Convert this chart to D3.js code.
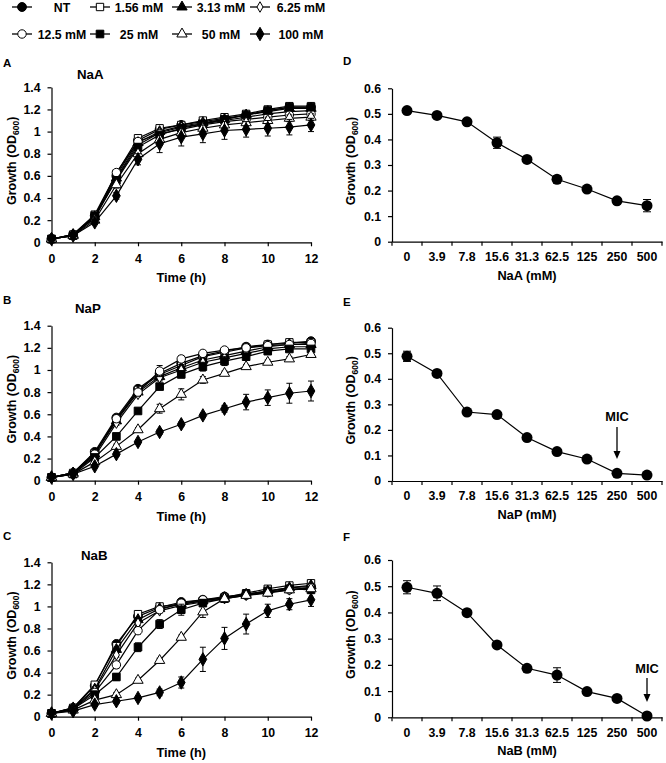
<!DOCTYPE html>
<html lang="en">
<head>
<meta charset="UTF-8" />
<title>Growth of cultures with NaA, NaP and NaB</title>
<script src="https://d3js.org/d3.v7.min.js"></script>
<style>
  body { margin: 0; background: #fff; }
  svg { display: block; font-family: "Liberation Sans", Arial, sans-serif; font-weight: bold; }
  .axis path, .axis line { stroke: #000; stroke-width: 1.2; }
  .axis text { font-size: 12.3px; fill: #000; }
  .series { fill: none; stroke: #000; stroke-width: 1.2; }
  .err { stroke: #000; stroke-width: 1; }
</style>
</head>
<body>
<div id="chart"></div>
<script>
// ---- datos ----
const hours = [0, 1, 2, 3, 4, 5, 6, 7, 8, 9, 10, 11, 12];
const timeTicks = [0, 2, 4, 6, 8, 10, 12];
const odTicks = [0, 0.2, 0.4, 0.6, 0.8, 1, 1.2, 1.4];
const micTicks = [0, 0.1, 0.2, 0.3, 0.4, 0.5, 0.6];
const seriesLabels = ["NT", "1.56 mM", "3.13 mM", "6.25 mM", "12.5 mM", "25 mM", "50 mM", "100 mM"];
const concLabels = ["0", "3.9", "7.8", "15.6", "31.3", "62.5", "125", "250", "500"];

// curvas de crecimiento, una fila por serie (NT ... 100 mM)
const naA = [
  [0.03, 0.07, 0.24, 0.60, 0.92, 1.02, 1.06, 1.09, 1.12, 1.15, 1.19, 1.22, 1.22],
  [0.03, 0.07, 0.25, 0.62, 0.94, 1.03, 1.06, 1.10, 1.13, 1.16, 1.20, 1.23, 1.23],
  [0.03, 0.07, 0.23, 0.58, 0.90, 1.00, 1.05, 1.08, 1.11, 1.15, 1.18, 1.21, 1.21],
  [0.03, 0.07, 0.22, 0.57, 0.88, 0.99, 1.04, 1.07, 1.10, 1.13, 1.16, 1.18, 1.19],
  [0.03, 0.06, 0.22, 0.63, 0.91, 0.98, 1.02, 1.06, 1.09, 1.11, 1.13, 1.15, 1.16],
  [0.03, 0.06, 0.24, 0.56, 0.86, 0.97, 1.03, 1.07, 1.11, 1.15, 1.19, 1.22, 1.22],
  [0.03, 0.06, 0.20, 0.52, 0.80, 0.93, 0.99, 1.03, 1.06, 1.08, 1.10, 1.12, 1.13],
  [0.03, 0.06, 0.18, 0.42, 0.75, 0.89, 0.95, 0.98, 1.01, 1.02, 1.03, 1.04, 1.06]
];
const naAErr = [
  [0.01, 0.01, 0.02, 0.02, 0.03, 0.02, 0.02, 0.02, 0.02, 0.02, 0.02, 0.02, 0.02],
  [0.01, 0.01, 0.02, 0.02, 0.03, 0.02, 0.02, 0.02, 0.02, 0.02, 0.02, 0.02, 0.02],
  [0.01, 0.01, 0.02, 0.02, 0.03, 0.02, 0.02, 0.02, 0.02, 0.02, 0.02, 0.02, 0.02],
  [0.01, 0.01, 0.02, 0.02, 0.03, 0.02, 0.02, 0.02, 0.02, 0.02, 0.02, 0.02, 0.02],
  [0.01, 0.01, 0.02, 0.02, 0.03, 0.02, 0.02, 0.02, 0.02, 0.02, 0.03, 0.03, 0.03],
  [0.01, 0.01, 0.02, 0.02, 0.03, 0.02, 0.02, 0.02, 0.02, 0.02, 0.02, 0.02, 0.02],
  [0.01, 0.01, 0.02, 0.03, 0.04, 0.03, 0.03, 0.03, 0.03, 0.03, 0.03, 0.03, 0.03],
  [0.01, 0.01, 0.02, 0.03, 0.05, 0.08, 0.08, 0.08, 0.08, 0.07, 0.07, 0.07, 0.06]
];
const naP = [
  [0.03, 0.07, 0.26, 0.57, 0.83, 0.97, 1.06, 1.13, 1.17, 1.21, 1.23, 1.24, 1.26],
  [0.03, 0.07, 0.25, 0.55, 0.82, 0.96, 1.04, 1.12, 1.16, 1.20, 1.23, 1.25, 1.25],
  [0.03, 0.07, 0.24, 0.54, 0.80, 0.94, 1.02, 1.09, 1.13, 1.17, 1.21, 1.23, 1.23],
  [0.03, 0.07, 0.22, 0.52, 0.78, 0.93, 1.00, 1.07, 1.11, 1.15, 1.19, 1.21, 1.21],
  [0.03, 0.06, 0.24, 0.56, 0.80, 0.99, 1.10, 1.15, 1.18, 1.20, 1.22, 1.23, 1.24],
  [0.03, 0.06, 0.21, 0.40, 0.63, 0.85, 0.96, 1.03, 1.08, 1.12, 1.17, 1.19, 1.19],
  [0.03, 0.06, 0.17, 0.31, 0.46, 0.65, 0.78, 0.91, 0.97, 1.03, 1.07, 1.10, 1.14],
  [0.03, 0.06, 0.13, 0.24, 0.35, 0.44, 0.51, 0.59, 0.65, 0.71, 0.75, 0.79, 0.81]
];
const naPErr = [
  [0.01, 0.01, 0.02, 0.02, 0.02, 0.03, 0.02, 0.02, 0.02, 0.02, 0.02, 0.02, 0.02],
  [0.01, 0.01, 0.02, 0.02, 0.02, 0.03, 0.02, 0.02, 0.02, 0.02, 0.02, 0.02, 0.02],
  [0.01, 0.01, 0.02, 0.02, 0.02, 0.03, 0.03, 0.02, 0.02, 0.02, 0.02, 0.02, 0.02],
  [0.01, 0.01, 0.02, 0.02, 0.02, 0.03, 0.03, 0.03, 0.03, 0.02, 0.02, 0.02, 0.02],
  [0.01, 0.01, 0.02, 0.02, 0.02, 0.05, 0.03, 0.02, 0.02, 0.02, 0.02, 0.02, 0.02],
  [0.01, 0.01, 0.02, 0.02, 0.02, 0.02, 0.03, 0.04, 0.04, 0.03, 0.03, 0.02, 0.02],
  [0.01, 0.01, 0.02, 0.02, 0.02, 0.04, 0.05, 0.03, 0.02, 0.02, 0.02, 0.02, 0.02],
  [0.01, 0.01, 0.01, 0.02, 0.02, 0.02, 0.02, 0.02, 0.03, 0.07, 0.07, 0.09, 0.09]
];
const naB = [
  [0.03, 0.08, 0.28, 0.66, 0.91, 0.99, 1.04, 1.06, 1.09, 1.11, 1.14, 1.17, 1.18],
  [0.03, 0.08, 0.29, 0.64, 0.93, 1.00, 1.02, 1.05, 1.08, 1.12, 1.16, 1.19, 1.21],
  [0.03, 0.08, 0.25, 0.61, 0.88, 0.98, 1.02, 1.05, 1.08, 1.11, 1.14, 1.17, 1.19],
  [0.03, 0.07, 0.24, 0.56, 0.85, 0.96, 1.01, 1.04, 1.07, 1.10, 1.13, 1.15, 1.17],
  [0.03, 0.07, 0.22, 0.47, 0.78, 0.97, 1.03, 1.06, 1.08, 1.10, 1.13, 1.15, 1.17],
  [0.03, 0.07, 0.20, 0.36, 0.63, 0.84, 0.97, 1.03, 1.07, 1.11, 1.14, 1.16, 1.15],
  [0.03, 0.06, 0.15, 0.20, 0.33, 0.51, 0.72, 0.95, 1.07, 1.10, 1.12, 1.15, 1.16],
  [0.03, 0.05, 0.11, 0.14, 0.17, 0.22, 0.31, 0.52, 0.71, 0.84, 0.96, 1.02, 1.06]
];
const naBErr = [
  [0.01, 0.01, 0.02, 0.02, 0.02, 0.02, 0.02, 0.02, 0.02, 0.02, 0.02, 0.02, 0.02],
  [0.01, 0.01, 0.02, 0.02, 0.02, 0.02, 0.02, 0.02, 0.02, 0.02, 0.02, 0.02, 0.02],
  [0.01, 0.01, 0.02, 0.02, 0.02, 0.02, 0.02, 0.02, 0.02, 0.02, 0.02, 0.02, 0.02],
  [0.01, 0.01, 0.02, 0.02, 0.02, 0.02, 0.02, 0.02, 0.02, 0.02, 0.02, 0.02, 0.02],
  [0.01, 0.01, 0.02, 0.03, 0.03, 0.02, 0.02, 0.02, 0.02, 0.02, 0.02, 0.02, 0.02],
  [0.01, 0.01, 0.02, 0.03, 0.04, 0.04, 0.05, 0.03, 0.02, 0.02, 0.02, 0.02, 0.02],
  [0.01, 0.01, 0.02, 0.02, 0.02, 0.02, 0.02, 0.05, 0.03, 0.02, 0.03, 0.02, 0.02],
  [0.01, 0.01, 0.01, 0.02, 0.02, 0.03, 0.05, 0.11, 0.10, 0.09, 0.06, 0.05, 0.06]
];

// crecimiento a 24 h segun concentracion
const naAMic = [0.513, 0.494, 0.469, 0.387, 0.322, 0.244, 0.206, 0.160, 0.141];
const naAMicErr = [0.010, 0.006, 0.008, 0.022, 0.007, 0.014, 0.008, 0.012, 0.024];
const naPMic = [0.488, 0.421, 0.270, 0.260, 0.170, 0.115, 0.086, 0.030, 0.023];
const naPMicErr = [0.020, 0.006, 0.006, 0.012, 0.005, 0.004, 0.004, 0.003, 0.003];
const naBMic = [0.496, 0.473, 0.399, 0.276, 0.187, 0.161, 0.098, 0.072, 0.005];
const naBMicErr = [0.025, 0.028, 0.006, 0.006, 0.006, 0.028, 0.006, 0.004, 0.003];

// ---- dibujo ----
const W = 666, H = 763;
const svg = d3.select("#chart").append("svg").attr("width", W).attr("height", H);

const markerStyle = [
  { type: d3.symbolCircle, size: 62, fill: "#000" },
  { type: d3.symbolSquare, size: 54, fill: "#fff" },
  { type: d3.symbolTriangle, size: 46, fill: "#000" },
  { type: d3.symbolDiamond, size: 32, fill: "#fff" },
  { type: d3.symbolCircle, size: 56, fill: "#fff" },
  { type: d3.symbolSquare, size: 58, fill: "#000" },
  { type: d3.symbolTriangle, size: 46, fill: "#fff" },
  { type: d3.symbolDiamond, size: 52, fill: "#000" }
];

function cleanAxis(g) {
  g.attr("font-family", null).attr("font-size", null);
}

function yLabel(x, yMid) {
  const t = svg.append("text")
    .attr("transform", `translate(${x},${yMid}) rotate(-90)`)
    .attr("text-anchor", "middle")
    .attr("font-size", 12.5);
  t.append("tspan").text("Growth (OD");
  t.append("tspan").attr("font-size", 8.5).attr("dy", 3).text("600");
  t.append("tspan").attr("dy", -3).text(")");
}

function panelLetter(letter, x, y) {
  svg.append("text").attr("x", x).attr("y", y)
    .attr("font-size", 11.5).text(letter);
}

// leyenda
const legendCols = [22, 100, 182, 260];
const legendTextX = [62, 139, 221, 301];
const legendRows = [7, 34];
seriesLabels.forEach((lab, i) => {
  const row = Math.floor(i / 4), col = i % 4;
  const cx = legendCols[col], cy = legendRows[row];
  const g = svg.append("g");
  g.append("line").attr("x1", cx - 10).attr("x2", cx + 10)
    .attr("y1", cy).attr("y2", cy).attr("stroke", "#000").attr("stroke-width", 1.3);
  g.append("path")
    .attr("d", d3.symbol().type(markerStyle[i].type).size(markerStyle[i].size)())
    .attr("transform", `translate(${cx},${cy})`)
    .attr("fill", markerStyle[i].fill).attr("stroke", "#000").attr("stroke-width", 1);
  g.append("text").attr("x", legendTextX[col]).attr("y", cy + 4.5)
    .attr("text-anchor", "middle").attr("font-size", 12.3).text(lab);
});

function drawCurvePanel(p) {
  const x = d3.scaleLinear().domain([0, 12]).range([p.left, p.right]);
  const y = d3.scaleLinear().domain([0, 1.4]).range([p.bottom, p.top]);

  svg.append("g").attr("class", "axis")
    .attr("transform", `translate(0,${p.bottom})`)
    .call(d3.axisBottom(x).tickValues(timeTicks).tickSize(4).tickSizeOuter(0).tickPadding(7.5))
    .call(cleanAxis);
  svg.append("g").attr("class", "axis")
    .attr("transform", `translate(${p.left},0)`)
    .call(d3.axisLeft(y).tickValues(odTicks).tickSize(4).tickSizeOuter(0).tickPadding(7)
      .tickFormat(d => String(+d.toFixed(1))))
    .call(cleanAxis);

  const line = d3.line().x((d, i) => x(hours[i])).y(d => y(d));

  p.values.forEach((vals, s) => {
    const g = svg.append("g");
    g.append("path").attr("class", "series").attr("d", line(vals));
    vals.forEach((v, i) => {
      const e = p.errors[s][i];
      const xc = x(hours[i]);
      g.append("line").attr("class", "err")
        .attr("x1", xc).attr("x2", xc).attr("y1", y(v - e)).attr("y2", y(v + e));
      [v - e, v + e].forEach(b => {
        g.append("line").attr("class", "err")
          .attr("x1", xc - 3).attr("x2", xc + 3).attr("y1", y(b)).attr("y2", y(b));
      });
    });
    g.selectAll("path.mk").data(vals).join("path")
      .attr("class", "mk")
      .attr("d", d3.symbol().type(markerStyle[s].type).size(markerStyle[s].size)())
      .attr("transform", (d, i) => `translate(${x(hours[i])},${y(d)})`)
      .attr("fill", markerStyle[s].fill).attr("stroke", "#000").attr("stroke-width", 1);
  });

  svg.append("text").attr("x", (p.left + p.right) / 2).attr("y", p.bottom + 40)
    .attr("text-anchor", "middle").attr("font-size", 12.8).text("Time (h)");
  svg.append("text").attr("x", p.titleX).attr("y", p.titleY)
    .attr("font-size", 13.3).text(p.title);
  yLabel(16, (p.top + p.bottom) / 2 - 4);
  panelLetter(p.letter, 3, p.letterY);
}

function drawMicPanel(p) {
  const x = d3.scaleBand().domain(concLabels).range([p.left, p.right]);
  const y = d3.scaleLinear().domain([0, 0.6]).range([p.bottom, p.top]);

  svg.append("g").attr("class", "axis")
    .attr("transform", `translate(0,${p.bottom})`)
    .call(d3.axisBottom(x).tickSize(0).tickSizeOuter(0).tickPadding(10.5))
    .call(cleanAxis);
  // marcas entre categorias
  svg.append("g").selectAll("line")
    .data(concLabels.map(c => x(c)).concat([p.right]))
    .join("line")
    .attr("x1", d => d).attr("x2", d => d)
    .attr("y1", p.bottom).attr("y2", p.bottom + 4)
    .attr("stroke", "#000").attr("stroke-width", 1.2);
  svg.append("g").attr("class", "axis")
    .attr("transform", `translate(${p.left},0)`)
    .call(d3.axisLeft(y).tickValues(micTicks).tickSize(4).tickSizeOuter(0).tickPadding(7)
      .tickFormat(d => String(+d.toFixed(1))))
    .call(cleanAxis);

  const cx = c => x(c) + x.bandwidth() / 2;
  const line = d3.line().x((d, i) => cx(concLabels[i])).y(d => y(d));
  svg.append("path").attr("class", "series").attr("d", line(p.values));

  p.values.forEach((v, i) => {
    const e = p.errors[i];
    const xc = cx(concLabels[i]);
    svg.append("line").attr("class", "err")
      .attr("x1", xc).attr("x2", xc).attr("y1", y(v - e)).attr("y2", y(v + e));
    [v - e, v + e].forEach(b => {
      svg.append("line").attr("class", "err")
        .attr("x1", xc - 4).attr("x2", xc + 4).attr("y1", y(b)).attr("y2", y(b));
    });
  });
  svg.append("g").selectAll("circle").data(p.values).join("circle")
    .attr("cx", (d, i) => cx(concLabels[i])).attr("cy", d => y(d))
    .attr("r", 5.5).attr("fill", "#000");

  if (p.mic) {
    const mx = cx(p.mic);
    svg.append("text").attr("x", mx).attr("y", p.micTextY)
      .attr("text-anchor", "middle").attr("font-size", 12.8).text("MIC");
    svg.append("line").attr("x1", mx).attr("x2", mx)
      .attr("y1", p.arrowTop).attr("y2", p.arrowTip - 6)
      .attr("stroke", "#000").attr("stroke-width", 1.3);
    svg.append("path")
      .attr("d", `M${mx - 3.5},${p.arrowTip - 8}L${mx + 3.5},${p.arrowTip - 8}L${mx},${p.arrowTip}Z`)
      .attr("fill", "#000");
  }

  svg.append("text").attr("x", (p.left + p.right) / 2).attr("y", p.bottom + 38)
    .attr("text-anchor", "middle").attr("font-size", 12.8).text(p.xTitle);
  yLabel(355, (p.top + p.bottom) / 2 - 4);
  panelLetter(p.letter, 343, p.letterY);
}

drawCurvePanel({ letter: "A", letterY: 67, title: "NaA", titleX: 77, titleY: 78.5,
  values: naA, errors: naAErr, left: 51.5, right: 311, top: 87.3, bottom: 242.3 });
drawCurvePanel({ letter: "B", letterY: 304, title: "NaP", titleX: 75, titleY: 313,
  values: naP, errors: naPErr, left: 51.5, right: 311, top: 325.7, bottom: 480.7 });
drawCurvePanel({ letter: "C", letterY: 540, title: "NaB", titleX: 81, titleY: 560,
  values: naB, errors: naBErr, left: 51.5, right: 311, top: 562.3, bottom: 716.7 });

drawMicPanel({ letter: "D", letterY: 65, xTitle: "NaA (mM)", values: naAMic, errors: naAMicErr,
  left: 392, right: 662, top: 88.3, bottom: 241.7 });
drawMicPanel({ letter: "E", letterY: 306, xTitle: "NaP (mM)", values: naPMic, errors: naPMicErr,
  left: 392, right: 662, top: 327.7, bottom: 481,
  mic: "250", micTextY: 421, arrowTop: 427, arrowTip: 459 });
drawMicPanel({ letter: "F", letterY: 541, xTitle: "NaB (mM)", values: naBMic, errors: naBMicErr,
  left: 392, right: 662, top: 560, bottom: 717.3,
  mic: "500", micTextY: 672.5, arrowTop: 678, arrowTip: 702 });
</script>
</body>
</html>
